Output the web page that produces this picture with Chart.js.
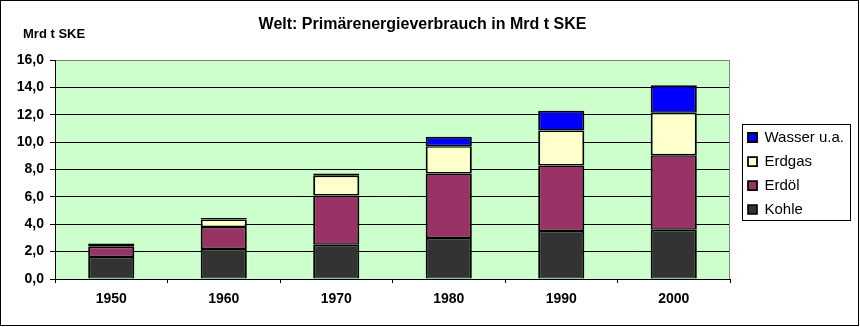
<!DOCTYPE html>
<html><head><meta charset="utf-8">
<script src="https://cdn.jsdelivr.net/npm/chart.js@4"></script>
<style>html,body{margin:0;padding:0;background:#fff;}#wrap{width:860px;height:327px;}</style>
</head><body><div id="wrap"><canvas id="c" width="860" height="327"></canvas></div>
<script>
const categories = ['1950', '1960', '1970', '1980', '1990', '2000'];
const kohle  = [1.6, 2.2, 2.5, 3.0, 3.5, 3.6];
const erdoel = [0.75, 1.6, 3.6, 4.7, 4.8, 5.45];
const erdgas = [0.2, 0.55, 1.45, 2.0, 2.55, 3.1];
const wasser = [0.05, 0.1, 0.15, 0.7, 1.45, 2.0];
const yTickLabels = ['0,0', '2,0', '4,0', '6,0', '8,0', '10,0', '12,0', '14,0', '16,0'];
const seriesNames = ['Kohle', 'Erdöl', 'Erdgas', 'Wasser u.a.'];
const titleText = 'Welt: Primärenergieverbrauch in Mrd t SKE';
const unitText = 'Mrd t SKE';

const FF = '"Liberation Sans", Arial, sans-serif';
const legendFont = {family: FF, size: 15};
const boxW = 9, lpad = 9;

// measure legend width so that chart area right edge lands at 730
const mctx = document.createElement('canvas').getContext('2d');
mctx.font = '15px ' + FF;
const maxText = Math.max(...seriesNames.map(s => mctx.measureText(s).width));
const legendW = lpad + boxW + 7.5 + maxText + 10;
const padRight = 130 - legendW;

const deco = {
  id: 'deco',
  beforeDraw(chart) {
    const {ctx, chartArea: a} = chart;
    ctx.save();
    ctx.fillStyle = '#CCFFCC';
    ctx.fillRect(a.left, a.top, a.right - a.left, a.bottom - a.top);
    ctx.restore();
  },
  afterLayout(chart) {
    const l = chart.legend;
    const w = l.width;
    l.left = chart.chartArea.right + 9;
    l.right = l.left + w;
    l.top = 121;
    l.bottom = 327;
    l.height = l.bottom - l.top;
  },
  beforeDatasetsDraw(chart) {
    const {ctx, chartArea: a} = chart;
    ctx.save();
    ctx.strokeStyle = '#808080';
    ctx.lineWidth = 1;
    ctx.beginPath();
    ctx.moveTo(Math.round(a.right) - 0.5, a.top);
    ctx.lineTo(Math.round(a.right) - 0.5, a.bottom);
    ctx.stroke();
    ctx.restore();
  },
  afterDraw(chart) {
    const {ctx} = chart;
    const l = chart.legend;
    ctx.save();
    ctx.strokeStyle = '#000';
    ctx.lineWidth = 1;
    ctx.strokeRect(0.5, 0.5, 858, 325);
    ctx.strokeRect(Math.round(l.left) + 3.5, 124.5, 108, 96);
    ctx.fillStyle = '#000';
    ctx.font = 'bold 13px ' + FF;
    ctx.textBaseline = 'middle';
    ctx.textAlign = 'left';
    ctx.fillText(unitText, 23, 34.5);
    ctx.restore();
  }
};

const colors = ['#333333', '#993366', '#FFFFCC', '#0000FF'];
const values = [kohle, erdoel, erdgas, wasser];

new Chart(document.getElementById('c'), {
  type: 'bar',
  data: {
    labels: categories,
    datasets: values.map((v, i) => ({
      label: seriesNames[i],
      data: v,
      backgroundColor: colors[i],
      borderColor: '#000',
      borderWidth: {left: 2, right: 2, top: i === values.length - 1 ? 2 : 1.5, bottom: i === 0 ? 1 : 1.5},
      borderSkipped: false,
      barPercentage: 0.41,
      categoryPercentage: 1.0
    }))
  },
  options: {
    responsive: false,
    devicePixelRatio: 1,
    animation: false,
    layout: {padding: {left: 0, right: padRight, top: 0, bottom: 0}},
    plugins: {
      title: {
        display: true,
        text: titleText,
        color: '#000',
        font: {family: FF, size: 16, weight: 'bold', lineHeight: 1.2},
        padding: {top: 15.4, bottom: 25.4}
      },
      legend: {
        display: true,
        position: 'right',
        align: 'start',
        reverse: true,
        labels: {
          color: '#000',
          font: legendFont,
          boxWidth: boxW,
          boxHeight: boxW,
          padding: lpad
        }
      },
      tooltip: {enabled: false}
    },
    scales: {
      x: {
        stacked: true,
        offset: true,
        grid: {display: true, drawOnChartArea: false, drawTicks: true, tickLength: 4, offset: true, color: '#000', tickColor: '#000'},
        border: {display: true, color: '#000', width: 1},
        ticks: {color: '#000', font: {family: FF, size: 14, weight: 'bold'}, padding: 8, maxRotation: 0},
        afterFit(s) { s.height = 48; }
      },
      y: {
        stacked: true,
        min: 0,
        max: 16,
        grid: {
          color: c => (c.tick && c.tick.value === 16) ? '#808080' : '#000',
          tickColor: '#000',
          tickLength: 5,
          lineWidth: 1
        },
        border: {display: true, color: '#000', width: 1},
        ticks: {
          stepSize: 2,
          color: '#000',
          font: {family: FF, size: 14, weight: 'bold'},
          padding: 6,
          callback: (v, i) => yTickLabels[i]
        },
        afterFit(s) { s.width = 55; }
      }
    }
  },
  plugins: [deco]
});
</script></body></html>
